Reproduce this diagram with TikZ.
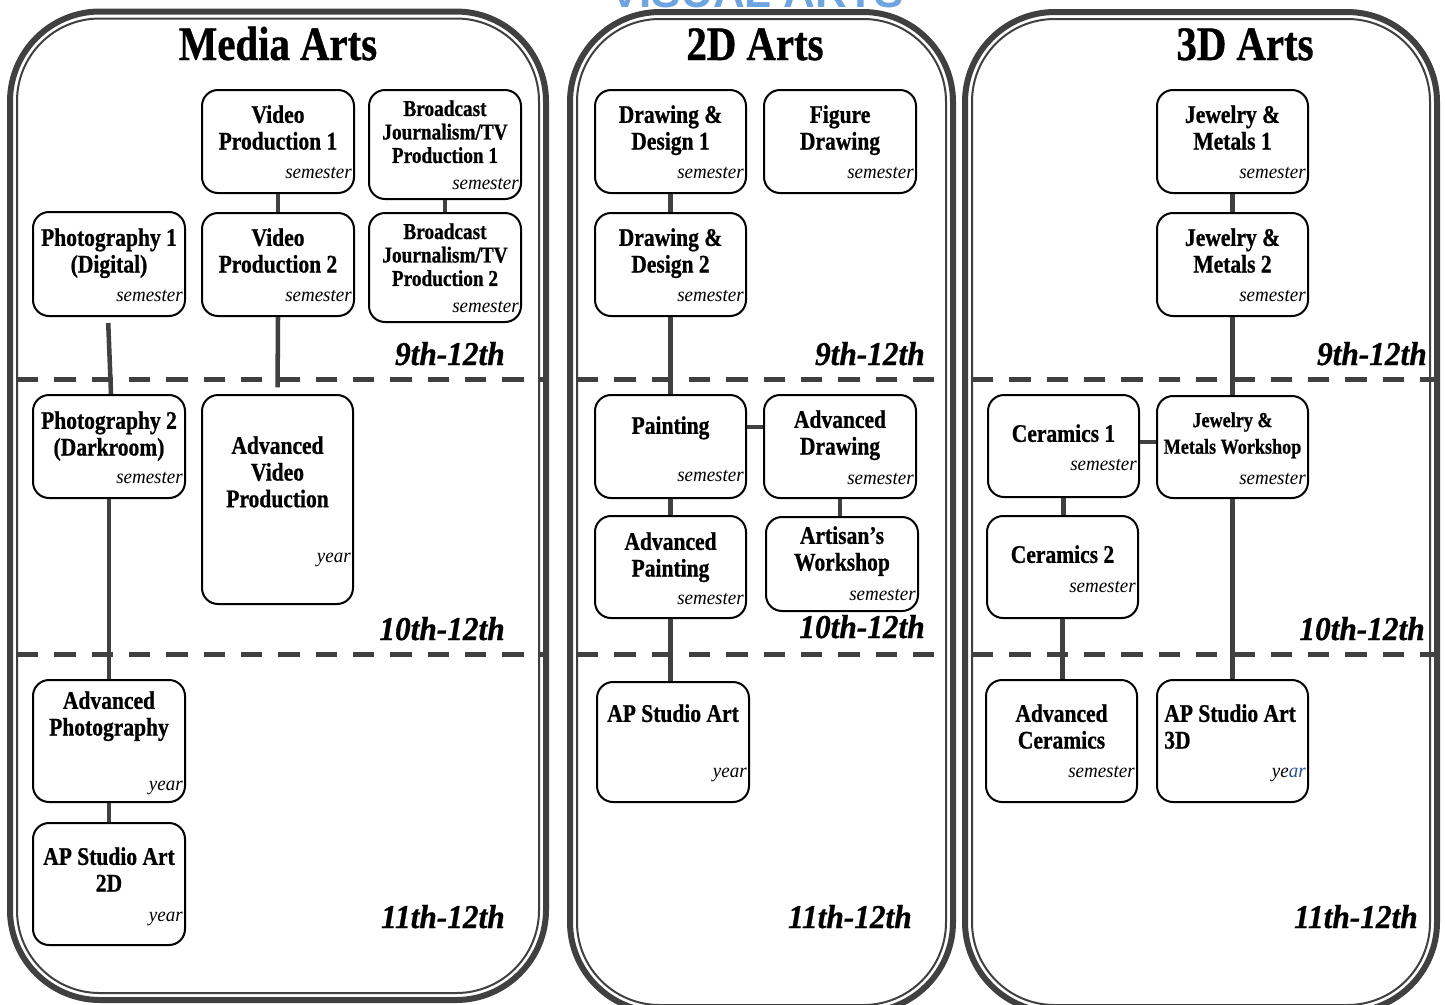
\documentclass[tikz,border=0pt]{standalone}
\usepackage{fontspec}
\setmainfont{Liberation Serif}
\newfontfamily\condfont{Liberation Serif}[FakeStretch=0.85, BoldFeatures={FakeBold=0.8}]
\newfontfamily\italfont{Liberation Serif}[FakeStretch=0.95]
\newfontfamily\gradefont{Liberation Serif}[FakeStretch=0.94, BoldItalicFeatures={FakeBold=0.8}]
\newfontfamily\bannerfont{Liberation Sans}
\usetikzlibrary{calc,fit}
\definecolor{lineg}{RGB}{64,64,64}
\definecolor{bannerblue}{RGB}{110,165,225}
\definecolor{yearblue}{RGB}{40,80,150}

% id, x1, y1, x2, y2, title offset, title, duration offset, duration
\newcommand{\course}[9]{%
  \node[cbox, fit={(#2,#3) (#4,#5)}] (#1) {};
  \node[ctitle, anchor=north] (#1t) at ($(#1.north)+(0,#6)$) {#7};
  \node[cdur, anchor=base east] (#1d) at ($(#1.south east)+(-3,-#8)$) {#9};
}

\begin{document}
\begin{tikzpicture}[x=0.75pt,y=-0.75pt,
  cbox/.style={draw=black, line width=1.5pt, rounded corners=12pt, fill=white, inner sep=0pt},
  ctitle/.style={inner sep=0pt, align=center, font=\condfont\bfseries\fontsize{19}{20}\selectfont},
  cdur/.style={inner sep=0pt, font=\italfont\itshape\fontsize{15}{18}\selectfont},
  ptitle/.style={inner sep=0pt, anchor=base, font=\condfont\bfseries\fontsize{36}{40}\selectfont},
  grade/.style={inner sep=0pt, anchor=base east, font=\gradefont\bfseries\itshape\fontsize{25}{28}\selectfont},
  outerline/.style={draw=lineg, line width=4.5pt, rounded corners=67.5pt},
  innerline/.style={draw=lineg, line width=1.5pt, rounded corners=62pt},
  dashline/.style={draw=lineg, line width=3.75pt, dash pattern=on 16pt off 12pt},
  conn/.style={draw=lineg, line width=3.4pt}
]
\useasboundingbox (0,0) rectangle (1445,1004);

% banner (clipped at top)
\node[inner sep=0pt, anchor=base, text=bannerblue, font=\bannerfont\bfseries\fontsize{33}{36}\selectfont] (banner) at (757,7) {VISUAL ARTS};

% panels
\draw[outerline] (10,11.5) rectangle (546,1000);
\draw[innerline] (17,18.5) rectangle (539,993);
\draw[outerline] (570,12) rectangle (953,1012);
\draw[innerline] (577,19) rectangle (946,1005);
\draw[outerline] (965,12) rectangle (1437,1012);
\draw[innerline] (972,19) rectangle (1430,1005);

% dashed dividers
\draw[dashline] (17,379) -- (544,379);
\draw[dashline] (17,654) -- (544,654);
\draw[dashline] (577,379) -- (950,379);
\draw[dashline] (577,654) -- (950,654);
\draw[dashline] (972,379) -- (1435,379);
\draw[dashline] (972,654) -- (1435,654);

% panel titles
\node[ptitle] (tmedia) at (278,60) {Media Arts};
\node[ptitle] (ttwo) at (755,60) {2D Arts};
\node[ptitle] (tthree) at (1245,60) {3D Arts};

% grade labels
\node[grade] (gma) at (505,365) {9th-12th};
\node[grade] (gmb) at (505,640) {10th-12th};
\node[grade] (gmc) at (505,928) {11th-12th};
\node[grade] (gta) at (925,365) {9th-12th};
\node[grade] (gtb) at (925,638) {10th-12th};
\node[grade] (gtc) at (912,928) {11th-12th};
\node[grade] (gha) at (1427,365) {9th-12th};
\node[grade] (ghb) at (1425,640) {10th-12th};
\node[grade] (ghc) at (1418,928) {11th-12th};

% Media Arts
\course{photoa}{33}{212}{185}{316}{17}{Photography 1\\(Digital)}{16}{semester}
\course{videoa}{202}{90}{354}{193}{16}{Video\\Production 1}{16}{semester}
\course{videob}{202}{213}{354}{316}{16}{Video\\Production 2}{16}{semester}
\begin{scope}[ctitle/.append style={font=\condfont\bfseries\fontsize{17}{17.6}\selectfont}]
\course{bcasta}{369}{90}{521}{199}{11}{Broadcast\\Journalism/TV\\Production 1}{11}{semester}
\course{bcastb}{369}{213}{521}{322}{11}{Broadcast\\Journalism/TV\\Production 2}{11}{semester}
\end{scope}
\course{photob}{33}{395}{185}{498}{17}{Photography 2\\(Darkroom)}{16}{semester}
\course{advvideo}{202}{395}{353}{604}{42}{Advanced\\Video\\Production}{43}{year}
\course{advphoto}{33}{680}{185}{802}{12}{Advanced\\Photography}{13}{year}
\course{apmedia}{33}{823}{185}{945}{25}{AP Studio Art\\2D}{25}{year}

% 2D Arts
\course{dda}{595}{90}{746}{193}{16}{Drawing \&\\Design 1}{16}{semester}
\course{figure}{764}{90}{916}{193}{16}{Figure\\Drawing}{16}{semester}
\course{ddb}{595}{213}{746}{316}{16}{Drawing \&\\Design 2}{16}{semester}
\course{paint}{595}{395}{746}{498}{22}{Painting}{18}{semester}
\course{advdraw}{764}{395}{916}{498}{16}{Advanced\\Drawing}{15}{semester}
\course{advpaint}{595}{516}{746}{618}{17}{Advanced\\Painting}{15}{semester}
\course{artisan}{766}{517}{918}{611}{10}{Artisan’s\\Workshop}{12}{semester}
\course{aptwo}{597}{682}{749}{802}{23}{AP Studio Art}{26}{year}

% 3D Arts
\course{jma}{1157}{90}{1308}{193}{16}{Jewelry \&\\Metals 1}{16}{semester}
\course{jmb}{1157}{213}{1308}{316}{16}{Jewelry \&\\Metals 2}{16}{semester}
\course{cera}{988}{395}{1139}{497}{30}{Ceramics 1}{28}{semester}
\begin{scope}[ctitle/.append style={font=\condfont\bfseries\fontsize{16}{20}\selectfont}]
\course{jmw}{1157}{396}{1308}{498}{17}{Jewelry \&\\Metals Workshop}{15}{semester}
\end{scope}
\course{cerb}{987}{516}{1138}{618}{30}{Ceramics 2}{27}{semester}
\course{advcer}{986}{680}{1137}{802}{25}{Advanced\\Ceramics}{26}{semester}
\node[cbox, fit={(1157,680) (1308,802)}] (apthree) {};
\node[ctitle, align=left, anchor=north west] (apthreet) at ($(apthree.north west)+(8,25)$) {AP Studio Art\\3D};
\node[cdur, anchor=base east] (apthreed) at ($(apthree.south east)+(-3,-26)$) {ye\textcolor{yearblue}{ar}};

% connectors Media Arts
\draw[conn] (videoa.south) -- (videob.north);
\draw[conn] (bcasta.south) -- (bcastb.north);
\draw[conn, shorten <=4.5pt] ([xshift=-0.75pt]photoa.south) -- ([xshift=1.5pt]photob.north);
\draw[conn, shorten >=5pt] (videob.south) -- (advvideo.north);
\draw[conn] (photob.south) -- (advphoto.north);
\draw[conn] (advphoto.south) -- (apmedia.north);

% connectors 2D Arts
\draw[conn] (dda.south) -- (ddb.north);
\draw[conn] (ddb.south) -- (paint.north);
\draw[conn] ($(paint.north east)+(0,33)$) -- ($(advdraw.north west)+(0,33)$);
\draw[conn] (paint.south) -- (advpaint.north);
\draw[conn] (advdraw.south) -- (advdraw.south |- artisan.north);
\draw[conn] (advpaint.south) -- (advpaint.south |- aptwo.north);

% connectors 3D Arts
\draw[conn] (jma.south) -- (jmb.north);
\draw[conn] (jmb.south) -- (jmw.north);
\draw[conn] ($(cera.north east)+(0,48)$) -- ($(jmw.north west)+(0,47)$);
\draw[conn] (cera.south) -- (cera.south |- cerb.north);
\draw[conn] (cerb.south) -- (cerb.south |- advcer.north);
\draw[conn] (jmw.south) -- (jmw.south |- apthree.north);
\end{tikzpicture}
\end{document}
